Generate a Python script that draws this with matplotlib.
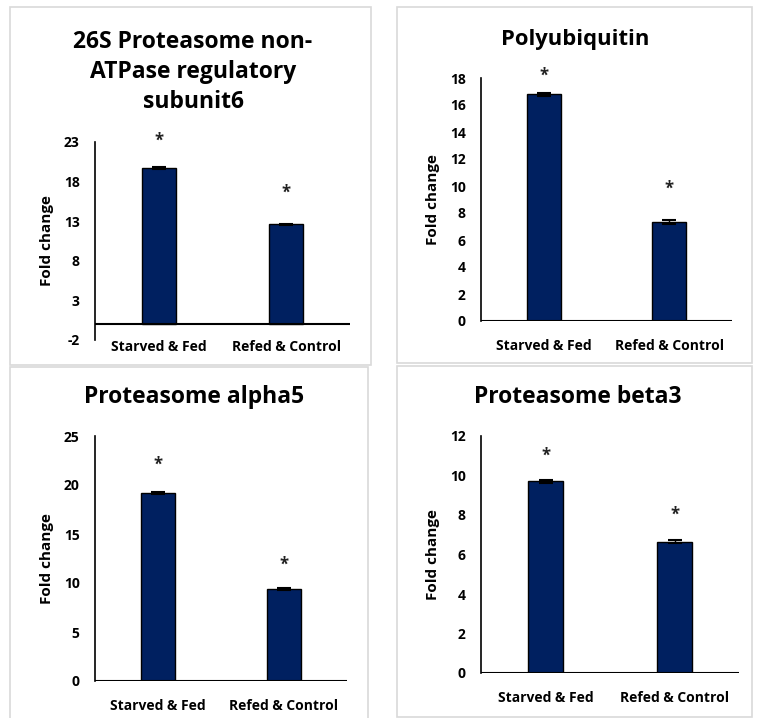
import matplotlib
matplotlib.use("Agg")
import matplotlib.pyplot as plt
from matplotlib.patches import Rectangle

plt.rcParams['font.family'] = ['Open Sans', 'DejaVu Sans']
plt.rcParams['font.weight'] = 'bold'

categories = ["Starved & Fed", "Refed & Control"]

titles = ["26S Proteasome non-\nATPase regulatory\nsubunit6",
          "Polyubiquitin",
          "Proteasome alpha5",
          "Proteasome beta3"]

values_26s = [19.7, 12.6]
errors_26s = [0.1, 0.05]
stars_26s = [23.2, 16.6]
ticks_26s = [-2, 3, 8, 13, 18, 23]

values_poly = [16.8, 7.3]
errors_poly = [0.1, 0.15]
stars_poly = [18.2, 9.8]
ticks_poly = [0, 2, 4, 6, 8, 10, 12, 14, 16, 18]

values_a5 = [19.2, 9.4]
errors_a5 = [0.1, 0.08]
stars_a5 = [22.1, 11.9]
ticks_a5 = [0, 5, 10, 15, 20, 25]

values_b3 = [9.7, 6.65]
errors_b3 = [0.08, 0.07]
stars_b3 = [11.0, 8.0]
ticks_b3 = [0, 2, 4, 6, 8, 10, 12]

W, H = 758, 718
fig = plt.figure(figsize=(W / 100, H / 100), dpi=100)

def fx(x):
    return x / W

def fy(y):
    return 1 - y / H

# panel borders (pixel boxes: left, top, right, bottom)
boxes = [(10, 7, 371, 365), (397, 7, 752, 363), (10, 367, 368, 730), (397, 366, 752, 717)]
for (l, t, r, b) in boxes:
    fig.patches.append(Rectangle((fx(l), fy(b)), fx(r - l), (b - t) / H,
                                 transform=fig.transFigure, facecolor='none',
                                 edgecolor='#d9d9d9', linewidth=1.2, zorder=0))

# axes pixel boxes: left, top, right, bottom
axboxes = [(95, 142, 350, 340), (481, 78, 732, 321), (95, 436, 347, 681), (481, 436, 739, 673)]
data = [(values_26s, errors_26s, stars_26s, ticks_26s),
        (values_poly, errors_poly, stars_poly, ticks_poly),
        (values_a5, errors_a5, stars_a5, ticks_a5),
        (values_b3, errors_b3, stars_b3, ticks_b3)]
title_y = [72, 40, 397, 397]
title_x = [193, 575, 194, 578]
title_size = [16.5, 15.8, 16.5, 16.5]
ylabel_x = [47, 433, 47, 433]
label_pad = [0, 13, 13, 13]

for i, ((l, t, r, b), (vals, errs, stars, ticks)) in enumerate(zip(axboxes, data)):
    ax = fig.add_axes([fx(l), fy(b), fx(r - l), (b - t) / H])
    x = [0, 1]
    ax.bar(x, vals, width=0.27, color='#002060', edgecolor='black', linewidth=1.0,
           yerr=errs, capsize=5, error_kw=dict(ecolor='black', elinewidth=1.0, capthick=1.5),
           zorder=3)
    for xi, s in zip(x, stars):
        ax.text(xi, s, '*', ha='center', va='center', fontsize=12, fontweight='bold',
                color='#222222')
    ax.set_xlim(-0.5, 1.5)
    ax.set_ylim(ticks[0], ticks[-1])
    ax.set_yticks(ticks)
    ax.set_yticklabels([str(v) for v in ticks])
    ax.set_xticks(x)
    ax.set_xticklabels(categories)
    for s in ['top', 'right', 'bottom']:
        ax.spines[s].set_visible(False)
    ax.spines['left'].set_linewidth(1.2)
    ax.axhline(0, color='black', linewidth=1.5, zorder=4)
    ax.tick_params(axis='both', length=0, labelsize=10, colors='black')
    ax.tick_params(axis='y', pad=11)
    ax.tick_params(axis='x', pad=label_pad[i])
    for lab in ax.get_xticklabels() + ax.get_yticklabels():
        lab.set_fontweight('bold')
    ax.patch.set_alpha(0)
    fig.text(fx(ylabel_x[i]), fy((t + b) / 2), 'Fold change', rotation=90,
             ha='center', va='center', fontsize=11, fontweight='bold')
    fig.text(fx(title_x[i]), fy(title_y[i]), titles[i], ha='center', va='center',
             fontsize=title_size[i], fontweight='bold', linespacing=1.35)

fig.savefig('out.png', dpi=100)
